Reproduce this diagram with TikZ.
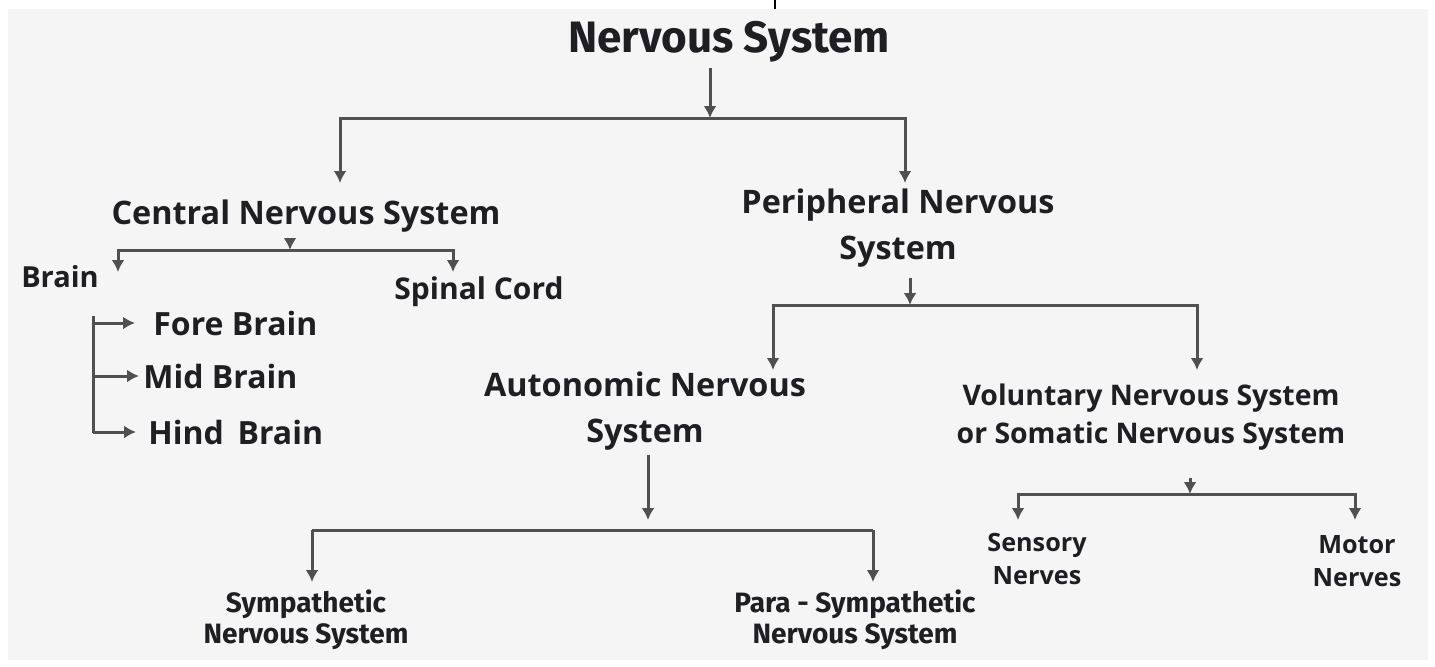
\documentclass[tikz,border=0pt]{standalone}
\usepackage{fontspec}
\setmainfont{Open Sans}
\newfontfamily\firafont{Fira Sans}
\usepackage{xcolor}
\usetikzlibrary{arrows.meta,positioning}
\definecolor{pagegray}{RGB}{245,245,245}
\definecolor{inkgray}{RGB}{80,80,80}
\definecolor{textblack}{RGB}{30,30,35}

\begin{document}
\begin{tikzpicture}[
  x=0.5pt,y=-0.5pt,
  head/.style={font=\firafont\bfseries\fontsize{22}{24}\selectfont,text=textblack,inner sep=1pt},
  lvl/.style={font=\bfseries\fontsize{16.2}{23}\selectfont,text=textblack,align=center,inner sep=1pt},
  part/.style={font=\bfseries\fontsize{16}{18}\selectfont,text=textblack,anchor=west,inner sep=1pt},
  leaf/.style={font=\firafont\bfseries\fontsize{14}{15.5}\selectfont,text=textblack,align=center,inner sep=1pt},
  small/.style={font=\bfseries\fontsize{12.6}{16.5}\selectfont,text=textblack,align=center,inner sep=1pt},
  ln/.style={draw=inkgray,line width=1.5pt},
  arr/.style={ln,-{Latex[length=6pt,width=6.5pt]}}
]
\useasboundingbox (0,0) rectangle (1435,666);
\fill[white] (0,0) rectangle (1435,666);
\fill[pagegray] (8,9) rectangle (1428,660);
\draw[black,line width=1pt] (775,0) -- (775,9);

% nodes
\node[head] (ns) at (729,42) {Nervous System};
\node[lvl] (cns) at (306,216) {Central Nervous System};
\node[lvl] (pns) at (898,228) {Peripheral Nervous\\System};
\node[lvl,font=\bfseries\fontsize{14.5}{16}\selectfont] (brain) at (60,277) {Brain};
\node[lvl,font=\bfseries\fontsize{15}{16}\selectfont] (sc) at (479,292) {Spinal Cord};
\node[part] (fore) at (151,323) {Fore Brain};
\node[part] (mid) at (141,376) {Mid Brain};
\node[part] (hind) at (146,432) {Hind\, Brain};
\node[lvl] (ans) at (645,411) {Autonomic Nervous\\System};
\node[lvl,font=\bfseries\fontsize{14.2}{19}\selectfont] (vns) at (1151,417) {Voluntary Nervous System\\or Somatic Nervous System};
\node[leaf] (sym) at (306,620) {Sympathetic\\Nervous System};
\node[leaf] (para) at (855,620) {Para - Sympathetic\\Nervous System};
\node[small] (sens) at (1037,559) {Sensory\\Nerves};
\node[small] (mot) at (1357,561) {Motor\\Nerves};

% junctions
\coordinate (nsbar) at (710,118);
\coordinate (cnsbar) at (290,250);
\coordinate (pnsbar) at (910,305);
\coordinate (ansbar) at (648,530);
\coordinate (vnsbar) at (1190,494);

\draw[arr] (710,68) -- (nsbar);
\draw[arr] (nsbar) -| (340,183);
\draw[arr] (nsbar) -| (905,183);

\draw[arr] (290,238) -- (cnsbar);
\draw[arr] (cnsbar) -| (118,272);
\draw[arr] (cnsbar) -| (453,272);

\draw[ln] (93,316) -- (93,433);
\draw[arr,shorten >=8pt] (93,323) -- (fore.west);
\draw[arr,shorten >=1pt] (93,376) -- (mid.west);
\draw[arr,shorten >=5pt] (93,432) -- (hind.west);

\draw[arr] (910,278) -- (pnsbar);
\draw[arr] (pnsbar) -| (773,370);
\draw[arr] (pnsbar) -| (1197,370);

\draw[arr] (648,455) -- (648,520);
\draw[ln] (312,530) -- (873,530);
\draw[arr] (312,530) -- (312,582);
\draw[arr] (873,530) -- (873,582);

\draw[arr] (1190,478) -- (vnsbar);
\draw[arr] (vnsbar) -| (1018,520);
\draw[arr] (vnsbar) -| (1355,520);
\end{tikzpicture}
\end{document}
